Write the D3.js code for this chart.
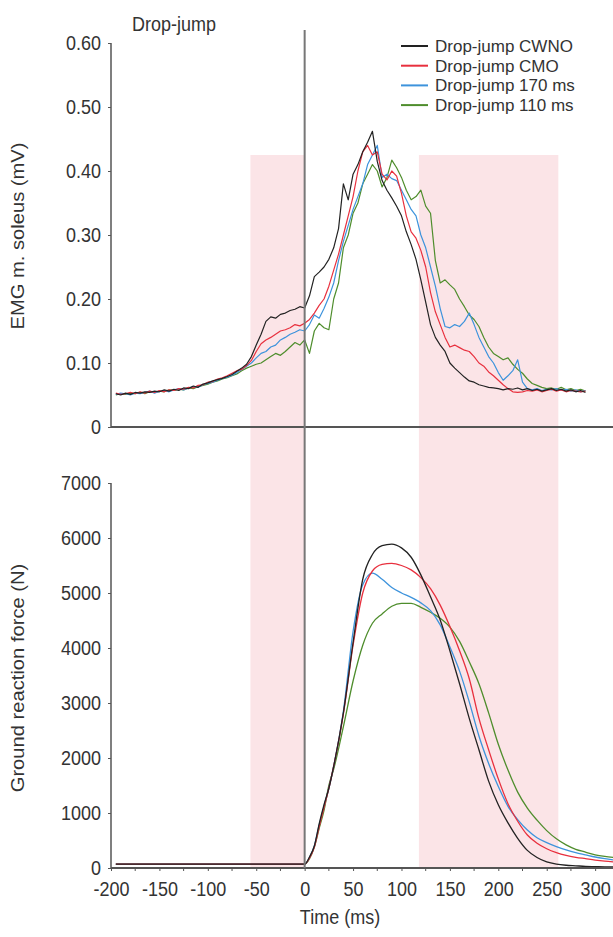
<!DOCTYPE html>
<html>
<head>
<meta charset="utf-8">
<script src="https://cdn.jsdelivr.net/npm/d3@7/dist/d3.min.js"></script>
<style>
  body { margin: 0; background: #fff; }
  svg { display: block; font-family: "Liberation Sans", Arial, sans-serif; }
  .axis path, .axis line { stroke: #555; }
  .axis text { fill: #333; font-size: 18px; }
</style>
</head>
<body>
<svg id="chart" width="613" height="937"></svg>
<script>
// series names + colours
var seriesNames = ["Drop-jump CWNO", "Drop-jump CMO", "Drop-jump 170 ms", "Drop-jump 110 ms"];
var seriesColors = ["#222222", "#e8303e", "#3d93dc", "#4e8d2c"];

// EMG m. soleus (mV), one value every 5 ms from -195 to 290 ms
var emgTime = d3.range(-195, 291, 5);
var emgCWNO = [
  .052,.050,.053,.051,.054,.053,.055,.054,.056,.055,
  .058,.056,.059,.057,.061,.060,.064,.062,.067,.069,
  .072,.074,.076,.079,.082,.087,.092,.098,.110,.128,
  .145,.165,.172,.170,.176,.178,.182,.184,.188,.186,
  .205,.235,.242,.250,.262,.280,.310,.380,.355,.395,
  .410,.430,.445,.462,.415,.385,.370,.358,.345,.330,
  .305,.285,.262,.230,.195,.160,.140,.128,.118,.100,
  .092,.085,.078,.072,.070,.066,.064,.062,.061,.060,
  .058,.060,.059,.061,.058,.060,.057,.059,.056,.058,
  .060,.057,.059,.056,.058,.055,.057,.054];
var emgCMO = [
  .053,.051,.052,.054,.052,.055,.053,.056,.054,.057,
  .055,.058,.057,.060,.059,.062,.061,.065,.066,.070,
  .071,.075,.077,.080,.084,.088,.090,.096,.104,.118,
  .130,.136,.140,.145,.150,.152,.155,.160,.158,.162,
  .168,.178,.190,.200,.220,.245,.270,.300,.330,.360,
  .400,.430,.440,.425,.430,.395,.386,.400,.392,.365,
  .330,.305,.295,.276,.250,.210,.180,.160,.140,.125,
  .128,.124,.120,.118,.110,.100,.095,.086,.080,.073,
  .066,.060,.055,.054,.055,.057,.056,.058,.055,.057,
  .059,.056,.058,.055,.057,.056,.055,.056];
var emg170 = [
  .051,.053,.052,.050,.053,.052,.054,.056,.053,.056,
  .057,.055,.058,.060,.058,.061,.063,.062,.066,.068,
  .070,.073,.076,.078,.081,.085,.090,.095,.100,.108,
  .115,.118,.125,.128,.136,.140,.145,.148,.152,.150,
  .160,.175,.170,.185,.203,.225,.260,.290,.315,.340,
  .360,.380,.410,.425,.440,.390,.395,.388,.385,.370,
  .355,.340,.330,.300,.280,.250,.220,.185,.157,.155,
  .160,.157,.165,.178,.160,.140,.125,.110,.100,.085,
  .073,.080,.088,.105,.070,.060,.058,.060,.057,.059,
  .058,.060,.057,.059,.056,.058,.055,.057];
var emg110 = [
  .050,.052,.051,.053,.052,.054,.052,.055,.054,.056,
  .055,.058,.057,.059,.058,.061,.060,.063,.065,.067,
  .070,.072,.075,.077,.080,.083,.088,.092,.095,.098,
  .100,.105,.110,.115,.112,.118,.125,.132,.128,.136,
  .115,.150,.162,.155,.152,.200,.225,.280,.300,.334,
  .350,.380,.395,.410,.400,.375,.390,.417,.405,.390,
  .370,.355,.360,.370,.345,.334,.260,.225,.230,.222,
  .215,.200,.188,.175,.168,.157,.140,.125,.115,.110,
  .105,.108,.098,.090,.084,.075,.068,.065,.062,.060,
  .061,.059,.062,.058,.060,.057,.059,.056];

// Ground reaction force (N)
var grfTime = [-195,-100,0,5,10,15,20,25,30,40,50,60,70,80,90,100,110,120,130,140,150,160,170,180,190,200,210,220,230,240,250,260,270,280,290,300,310,320];
var grfCWNO = [70,70,70,200,400,800,1150,1450,1850,2820,4100,5250,5700,5860,5890,5820,5650,5330,4930,4510,3950,3350,2720,2150,1580,1150,820,540,320,190,110,70,50,40,30,25,20,20];
var grfCMO  = [70,70,70,180,380,750,1100,1450,1850,2800,4050,5000,5400,5520,5540,5500,5420,5280,5080,4780,4390,3950,3440,2720,2150,1620,1170,850,600,450,350,280,230,195,170,145,125,110];
var grf170  = [70,70,70,190,400,780,1120,1450,1850,2850,4300,5150,5360,5250,5100,5000,4920,4820,4680,4420,4020,3580,3020,2400,1900,1480,1120,880,690,550,460,390,330,280,240,200,170,145];
var grf110  = [70,70,70,170,380,720,1050,1500,1800,2570,3400,4050,4450,4620,4760,4810,4810,4740,4650,4540,4380,4120,3750,3350,2820,2250,1780,1380,1090,870,680,530,420,340,290,240,210,190];

// shaded windows (ms) and top of the shading (mV)
var shadeWindows = [[-56, 0], [118, 262]];
var shadeTop = 0.425;

var emgTicks = [0, 0.1, 0.2, 0.3, 0.4, 0.5, 0.6];
var grfTicks = [0, 1000, 2000, 3000, 4000, 5000, 6000, 7000];
var timeTicks = [-200, -150, -100, -50, 0, 50, 100, 150, 200, 250, 300];
var timeMinorTicks = [-175, -125, -75, -25, 25, 75, 125, 175, 225, 275];

var svg = d3.select("#chart");
var vStretch = "scale(1,1.12)";   // the original lettering is a bit taller than Arial

var x = d3.scaleLinear().domain([-200, 320]).range([111, 614.5]);
var yEmg = d3.scaleLinear().domain([0, 0.6]).range([427, 43]);
var yGrf = d3.scaleLinear().domain([0, 7000]).range([868, 483]);

// pink windows
svg.selectAll("rect.shade")
  .data(shadeWindows)
  .enter().append("rect")
  .attr("class", "shade")
  .attr("x", d => x(d[0]))
  .attr("width", d => x(d[1]) - x(d[0]))
  .attr("y", yEmg(shadeTop))
  .attr("height", yGrf(0) - yEmg(shadeTop))
  .attr("fill", "#fbe4e7");

// EMG lines
var emgSeries = [emgCWNO, emgCMO, emg170, emg110];
var emgLine = d3.line()
  .x(d => x(d[0]))
  .y(d => yEmg(d[1]));
// draw green first so black ends up on top
[3, 2, 1, 0].forEach(function(i){
  svg.append("path")
    .datum(d3.zip(emgTime, emgSeries[i]))
    .attr("fill", "none")
    .attr("stroke", seriesColors[i])
    .attr("stroke-width", 1.2)
    .attr("stroke-linejoin", "round")
    .attr("d", emgLine);
});

// GRF lines
var grfSeries = [grfCWNO, grfCMO, grf170, grf110];
var grfLine = d3.line()
  .curve(d3.curveMonotoneX)
  .x(d => x(d[0]))
  .y(d => yGrf(d[1]));
[3, 2, 1, 0].forEach(function(i){
  svg.append("path")
    .datum(d3.zip(grfTime, grfSeries[i]))
    .attr("fill", "none")
    .attr("stroke", seriesColors[i])
    .attr("stroke-width", 1.3)
    .attr("d", grfLine);
});

// axes
svg.append("g")
  .attr("class", "axis")
  .attr("transform", "translate(111,0)")
  .call(d3.axisLeft(yEmg).tickValues(emgTicks).tickSize(3).tickPadding(7)
    .tickFormat(d => d === 0 ? "0" : d3.format(".2f")(d)))
  .call(g => g.select(".domain").attr("d", "M0," + yEmg(0.6) + "V" + yEmg(0)).attr("stroke-width", 1.5))
  .call(g => g.selectAll("text").attr("transform", vStretch));

svg.append("line")
  .attr("x1", 111).attr("x2", 613)
  .attr("y1", yEmg(0)).attr("y2", yEmg(0))
  .attr("stroke", "#555").attr("stroke-width", 1.8);

svg.append("g")
  .attr("class", "axis")
  .attr("transform", "translate(111,0)")
  .call(d3.axisLeft(yGrf).tickValues(grfTicks).tickSize(3).tickPadding(7).tickFormat(d3.format("d")))
  .call(g => g.select(".domain").attr("d", "M0," + yGrf(7000) + "V" + yGrf(0)).attr("stroke-width", 1.5))
  .call(g => g.selectAll("text").attr("transform", vStretch));

var xAxis = svg.append("g")
  .attr("class", "axis")
  .attr("transform", "translate(0," + yGrf(0) + ")")
  .call(d3.axisBottom(x).tickValues(timeTicks).tickSize(3).tickPadding(9)
    .tickFormat(d => String(d)));
xAxis.selectAll("text").attr("transform", vStretch);
xAxis.select(".domain").attr("d", "M111,0H613").attr("stroke-width", 1.8);
xAxis.selectAll(".minor")
  .data(timeMinorTicks)
  .enter().append("line")
  .attr("class", "minor")
  .attr("x1", d => x(d)).attr("x2", d => x(d))
  .attr("y1", 0).attr("y2", 3)
  .attr("stroke", "#555");

// vertical line at touchdown
svg.append("line")
  .attr("x1", x(0)).attr("x2", x(0))
  .attr("y1", 30).attr("y2", yGrf(0))
  .attr("stroke", "#777").attr("stroke-width", 2);

// texts
svg.append("text")
  .attr("transform", "translate(132,31) " + vStretch)
  .attr("font-size", 18).attr("fill", "#333")
  .text("Drop-jump");

svg.append("text")
  .attr("transform", "translate(24,236) rotate(-90) scale(1.12,1)")
  .attr("text-anchor", "middle")
  .attr("font-size", 18).attr("fill", "#333")
  .text("EMG m. soleus (mV)");

svg.append("text")
  .attr("transform", "translate(24,678) rotate(-90) scale(1.12,1)")
  .attr("text-anchor", "middle")
  .attr("font-size", 18).attr("fill", "#333")
  .text("Ground reaction force (N)");

svg.append("text")
  .attr("transform", "translate(340,924) " + vStretch)
  .attr("text-anchor", "middle")
  .attr("font-size", 18).attr("fill", "#333")
  .text("Time (ms)");

// legend
var legend = svg.append("g").selectAll("g")
  .data(seriesNames)
  .enter().append("g")
  .attr("transform", (d, i) => "translate(401," + (46 + i * 19.7) + ")");
legend.append("line")
  .attr("x1", 0).attr("x2", 27)
  .attr("stroke", (d, i) => seriesColors[i])
  .attr("stroke-width", 2);
legend.append("text")
  .attr("x", 34).attr("y", 0).attr("dy", "0.35em")
  .attr("font-size", 17).attr("fill", "#333")
  .text(d => d);
</script>
</body>
</html>
